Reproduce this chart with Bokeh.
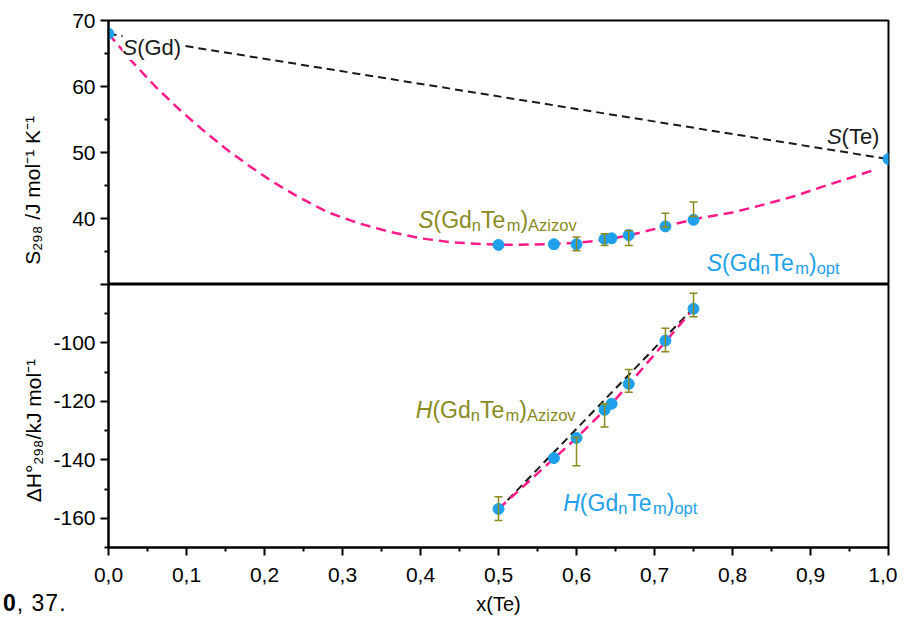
from bokeh.plotting import figure
from bokeh.layouts import column
from bokeh.models import (Range1d, FixedTicker, CustomJSTickFormatter, Label, Div,
                          ColumnDataSource, Whisker, TeeHead)
from bokeh.embed import file_html
from bokeh.resources import INLINE

# ---------------- data ----------------
x_comp = [0.5, 0.571, 0.6, 0.636, 0.645, 0.667, 0.714, 0.75]
s_opt = [36.0, 36.1, 36.1, 36.9, 37.0, 37.5, 38.8, 39.8]
h_opt = [-156.8, -139.4, -132.5, -122.9, -120.8, -114.0, -99.2, -88.3]

x_s_az = [0.6, 0.636, 0.667, 0.714, 0.75]
s_az = [36.15, 36.8, 37.05, 39.75, 41.4]
s_az_err = [1.05, 0.9, 1.15, 1.05, 1.1]

x_h_az = [0.5, 0.6, 0.636, 0.667, 0.714, 0.75]
h_az = [-156.7, -137.2, -124.8, -113.0, -99.0, -87.0]
h_az_err = [4.1, 4.8, 4.0, 3.9, 4.0, 4.0]

x_elem = [0.0, 1.0]
s_elem = [68.0, 49.0]

x_s_ideal = [0.0, 1.0]
s_ideal = [68.0, 49.0]
x_h_ideal = [0.5, 0.75]
h_ideal = [-157.0, -88.0]

x_s_fit = [0.0, 0.03, 0.06, 0.09, 0.12, 0.15, 0.18, 0.21, 0.24, 0.28, 0.32, 0.36,
           0.40, 0.44, 0.48, 0.52, 0.56, 0.60, 0.64, 0.68, 0.72, 0.76, 0.80, 0.84,
           0.88, 0.92, 0.96, 0.98]
s_fit = [68.0, 63.8, 60.0, 56.6, 53.5, 50.6, 48.0, 45.6, 43.5, 41.0, 39.3, 38.0,
         37.0, 36.4, 36.1, 36.0, 36.1, 36.3, 36.8, 37.8, 39.0, 40.1, 40.9, 42.1,
         43.4, 45.0, 46.5, 47.3]
x_h_fit = [0.5, 0.571, 0.6, 0.636, 0.645, 0.667, 0.714, 0.75]
h_fit = [-156.8, -139.6, -132.5, -123.0, -120.8, -114.2, -99.6, -88.3]

x_ticks = [0.0, 0.1, 0.2, 0.3, 0.4, 0.5, 0.6, 0.7, 0.8, 0.9, 1.0]
x_minor = [0.05, 0.15, 0.25, 0.35, 0.45, 0.55, 0.65, 0.75, 0.85, 0.95]
s_ticks = [30, 40, 50, 60, 70]
s_minor = [35, 45, 55, 65]
h_ticks = [-160, -140, -120, -100, -80]
h_minor = [-170, -150, -130, -110, -90]

# ---------------- styles ----------------
PINK = "#ff1a8c"
BLUE = "#1ea0ea"
OLIVE = "#8a8a1e"
BLACK = "#1a1a1a"
FONT = "Liberation Sans"
NB = "\u00a0"

W = {"S": 667, "(": 333, ")": 333, "G": 778, "d": 556, "T": 560, "e": 556, "n": 556,
     "m": 833, "A": 667, "z": 500, "i": 222, "o": 556, "v": 500, "p": 556, "t": 278,
     "H": 722, " ": 278, "/": 278, "J": 500, "l": 222, "K": 667, "\u2212": 584,
     "k": 500, "\u00b0": 400, "\u0394": 668, ",": 278, ".": 278, "x": 500}


def tw(s, size):
    return sum(W.get(c, 556) for c in s) * size / 1000.0


def rich(p, x, y, pieces, dx=0.0, dy=0.0, bg=None):
    off = 0.0
    for txt, size, style, shift, color in pieces:
        p.add_layout(Label(x=x, y=y, x_offset=dx + off, y_offset=dy + shift, text=txt,
                           text_font=FONT, text_font_size=f"{size}px",
                           text_font_style=style, text_color=color,
                           text_baseline="alphabetic", text_align="left",
                           background_fill_color=bg))
        off += tw(txt, size)


def formula(sym, sub, color):
    return [(sym, 23, "italic", 0, color), ("(Gd", 23, "normal", 0, color),
            ("n", 16.5, "normal", -5, color), ("Te", 23, "normal", 0, color),
            ("m", 16.5, "normal", -5, color), (")", 23, "normal", 0, color),
            (sub, 16.5, "normal", -5, color)]


def style_fig(p):
    p.grid.visible = False
    p.outline_line_color = "black"
    p.outline_line_width = 2
    p.background_fill_color = "white"
    p.border_fill_color = "white"
    for ax in p.axis:
        ax.axis_line_width = 2
        ax.axis_line_color = "black"
        ax.major_tick_out = 8
        ax.major_tick_in = 0
        ax.minor_tick_out = 4
        ax.minor_tick_in = 0
        ax.major_tick_line_width = 2
        ax.minor_tick_line_width = 2
        ax.major_label_text_font = FONT
        ax.major_label_text_font_size = "21px"
        ax.major_label_text_color = "black"
        ax.major_label_standoff = 5
        ax.axis_label_text_font = FONT
        ax.axis_label_text_font_size = "21px"
        ax.axis_label_text_font_style = "normal"
        ax.axis_label_text_color = "black"


xr = Range1d(0, 1)

# ---------------- top panel ----------------
p1 = figure(width=897, height=284, x_range=xr, y_range=Range1d(30, 70),
            output_backend="svg", toolbar_location=None, x_axis_location=None,
            min_border_left=108, min_border_right=9, min_border_top=20,
            min_border_bottom=0)
style_fig(p1)
p1.yaxis.ticker = FixedTicker(ticks=s_ticks, minor_ticks=s_minor)
p1.yaxis.formatter = CustomJSTickFormatter(code="return tick == 30 ? '' : tick.toFixed(0);")
p1.yaxis.axis_label = "S\u2082\u2089\u2088 /J mol\u207b\u00b9 K\u207b\u00b9" + NB * 13
p1.yaxis.axis_label_standoff = 25

p1.line(x_s_ideal, s_ideal, line_color=BLACK, line_width=2, line_dash="8 5")
p1.line(x_s_fit, s_fit, line_color=PINK, line_width=2.5, line_dash="10 6")
p1.scatter(x_comp, s_opt, size=11, color=BLUE)
p1.scatter(x_elem, s_elem, size=11, color=BLUE)
src_s = ColumnDataSource(dict(x=x_s_az,
                              lo=[v - e for v, e in zip(s_az, s_az_err)],
                              up=[v + e for v, e in zip(s_az, s_az_err)]))
p1.add_layout(Whisker(source=src_s, base="x", lower="lo", upper="up",
                      line_color=OLIVE, line_width=1.5, level="overlay",
                      upper_head=TeeHead(size=8, line_color=OLIVE, line_width=1.5),
                      lower_head=TeeHead(size=8, line_color=OLIVE, line_width=1.5)))

rich(p1, 0.0, 65.9, [("S", 22, "italic", 0, BLACK), ("(Gd)", 22, "normal", 0, BLACK)],
     dx=14, bg="white")
rich(p1, 0.921, 52.4, [("S", 22, "italic", 0, BLACK), ("(Te)", 22, "normal", 0, BLACK)])
rich(p1, 0.397, 39.7, formula("S", "Azizov", OLIVE))
rich(p1, 0.767, 33.3, formula("S", "opt", BLUE))

# ---------------- bottom panel ----------------
p2 = figure(width=897, height=334, x_range=xr, y_range=Range1d(-170, -80),
            output_backend="svg", toolbar_location=None,
            min_border_left=108, min_border_right=9, min_border_top=0,
            min_border_bottom=71)
style_fig(p2)
p2.yaxis.ticker = FixedTicker(ticks=h_ticks, minor_ticks=h_minor)
p2.yaxis.formatter = CustomJSTickFormatter(code="return tick == -80 ? '' : tick.toFixed(0);")
p2.yaxis.axis_label = "\u0394H\u00b0\u2082\u2089\u2088/kJ mol\u207b\u00b9" + NB * 5
p2.yaxis.axis_label_standoff = 5
p2.xaxis.ticker = FixedTicker(ticks=x_ticks, minor_ticks=x_minor)
p2.xaxis.formatter = CustomJSTickFormatter(code="return tick.toFixed(1).replace('.', ',');")
p2.xaxis.major_label_standoff = 12
p2.xaxis.axis_label = "x(Te)"
p2.xaxis.axis_label_text_font_size = "20px"
p2.xaxis.axis_label_standoff = 8

p2.line(x_h_ideal, h_ideal, line_color=BLACK, line_width=2, line_dash="8 5")
p2.line(x_h_fit, h_fit, line_color=PINK, line_width=2.5, line_dash="10 6")
p2.scatter(x_comp, h_opt, size=11, color=BLUE)
src_h = ColumnDataSource(dict(x=x_h_az,
                              lo=[v - e for v, e in zip(h_az, h_az_err)],
                              up=[v + e for v, e in zip(h_az, h_az_err)]))
p2.add_layout(Whisker(source=src_h, base="x", lower="lo", upper="up",
                      line_color=OLIVE, line_width=1.5, level="overlay",
                      upper_head=TeeHead(size=8, line_color=OLIVE, line_width=1.5),
                      lower_head=TeeHead(size=8, line_color=OLIVE, line_width=1.5)))

rich(p2, 0.394, -123.1, formula("H", "Azizov", OLIVE))
rich(p2, 0.583, -154.9, formula("H", "opt", BLUE))

# caption fragment, overlaid on the bottom-left corner
caption = Div(text=('<span style="font-family: \'Liberation Sans\', Arial, sans-serif; '
                    'font-size: 23px; line-height: 26px; color: black; letter-spacing: 1px; '
                    'margin-left: -2px; white-space: nowrap;"><b>0</b>, 37.</span>'),
              width=110, height=28,
              styles={"margin-top": "-28px", "z-index": "10"})

layout = column(p1, p2, caption, spacing=0)
open("out.html", "w").write(file_html(layout, INLINE))
